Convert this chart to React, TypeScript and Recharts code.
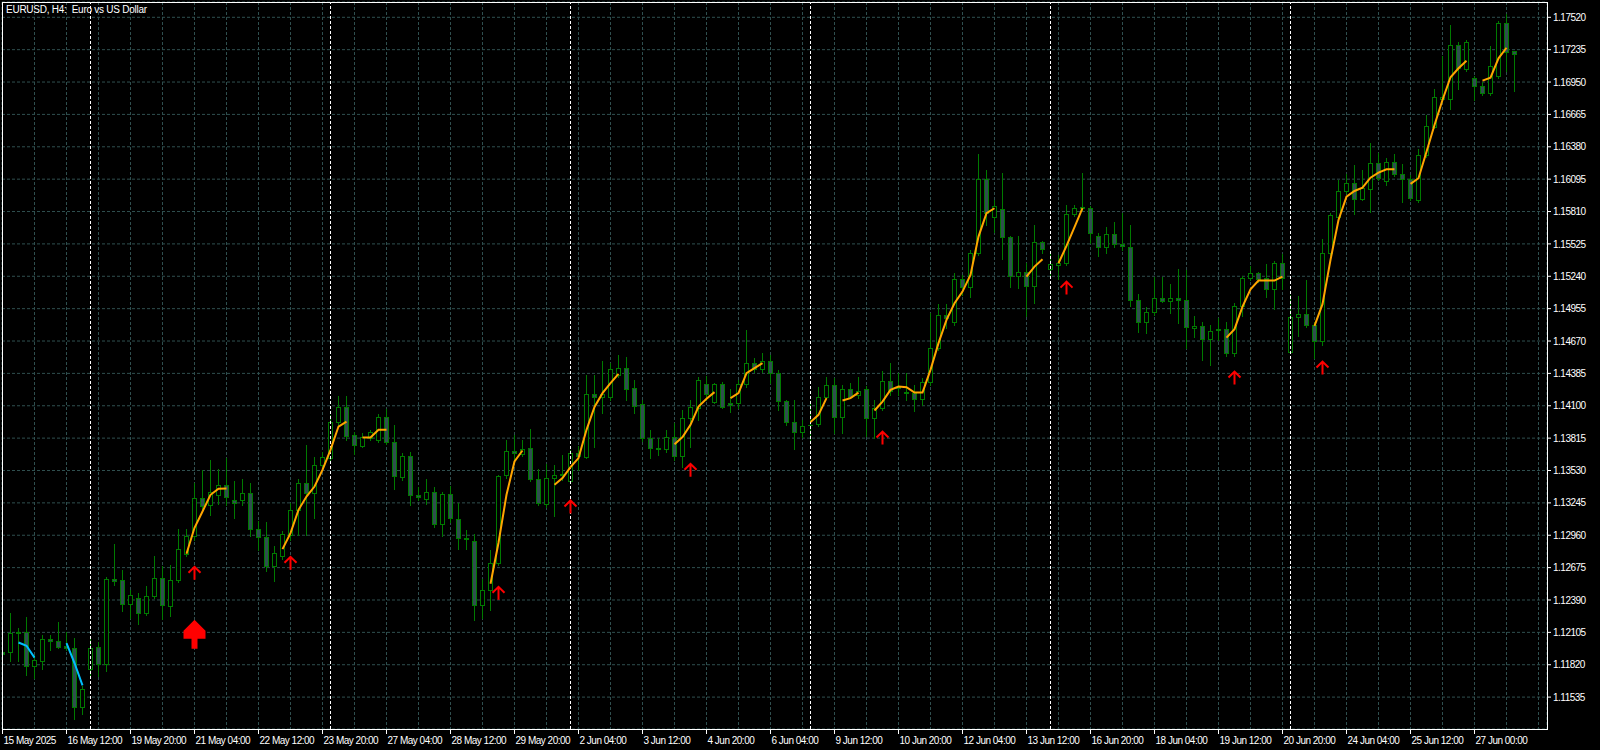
import { ComposedChart, Bar, Line, Scatter, XAxis, YAxis, CartesianGrid, ReferenceLine } from 'recharts'

const C = {
  bg: '#000000',
  grid: '#2F4F4F',
  wick: '#007A00',
  bull: '#000000',
  bear: '#2F4F4F',
  orange: '#FFA500',
  cyan: '#00BFFF',
  red: '#FF0000',
  text: '#FFFFFF',
}

// H4 bars, 15 May 2025 04:00 .. 27 Jun 2025
const open = [
  1.11934, 1.11932, 1.12097, 1.12104, 1.11805, 1.11849, 1.12046, 1.12029, 1.11987, 1.11967,
  1.11448, 1.11782, 1.11976, 1.11829, 1.12574, 1.12568, 1.12354, 1.12407, 1.12275, 1.12421,
  1.12583, 1.12333, 1.12562, 1.12794, 1.12955, 1.13287, 1.13228, 1.13316, 1.13398, 1.13266,
  1.13266, 1.13331, 1.13014, 1.12944, 1.12685, 1.12773, 1.12964, 1.13184, 1.13419, 1.13331,
  1.13580, 1.13639, 1.13961, 1.14093, 1.13844, 1.13750, 1.13815, 1.13800, 1.14000, 1.13780,
  1.13477, 1.13662, 1.13316, 1.13278, 1.13340, 1.13058, 1.13322, 1.13102, 1.12935, 1.12905,
  1.12342, 1.12474, 1.12715, 1.13492, 1.13706, 1.13677, 1.13727, 1.13454, 1.13237, 1.13463,
  1.13492, 1.13439, 1.13683, 1.13653, 1.14202, 1.14181, 1.14181, 1.14372, 1.14436, 1.14255,
  1.14117, 1.13815, 1.13727, 1.13718, 1.13824, 1.13662, 1.13991, 1.14082, 1.14294, 1.14137,
  1.14290, 1.14123, 1.14123, 1.14290, 1.14475, 1.14422, 1.14498, 1.14392, 1.14143, 1.13961,
  1.13868, 1.13929, 1.13938, 1.14181, 1.14284, 1.14000, 1.14246, 1.14193, 1.14246, 1.13991,
  1.14079, 1.14319, 1.14258, 1.14225, 1.14216, 1.14158, 1.14308, 1.14607, 1.14900, 1.14841,
  1.15214, 1.15149, 1.15443, 1.16094, 1.15760, 1.15830, 1.15584, 1.15243, 1.15281, 1.15158,
  1.15540, 1.15302, 1.15340, 1.15355, 1.15786, 1.15839, 1.15839, 1.15598, 1.15496, 1.15613,
  1.15522, 1.15501, 1.15032, 1.14841, 1.14924, 1.15052, 1.15023, 1.15052, 1.15032, 1.14786,
  1.14806, 1.14686, 1.14768, 1.14774, 1.14563, 1.14982, 1.15223, 1.15267, 1.15223, 1.15126,
  1.15355, 1.14572, 1.14885, 1.14906, 1.14812, 1.14674, 1.15443, 1.15765, 1.15991, 1.16059,
  1.15918, 1.16006, 1.16235, 1.16079, 1.16249, 1.16138, 1.16094, 1.15912, 1.16308, 1.16552,
  1.16798, 1.16798, 1.17276, 1.17062, 1.16983, 1.16915, 1.16851, 1.17003, 1.17467, 1.17223,
]

const high = [
  1.11952, 1.12275, 1.12146, 1.12240, 1.11908, 1.12078, 1.12084, 1.12198, 1.12104, 1.12055,
  1.11635, 1.12055, 1.12016, 1.12592, 1.12885, 1.12656, 1.12480, 1.12451, 1.12515, 1.12779,
  1.12685, 1.12700, 1.13014, 1.13014, 1.13419, 1.13536, 1.13624, 1.13542, 1.13639, 1.13439,
  1.13457, 1.13419, 1.13087, 1.13081, 1.12861, 1.12999, 1.13246, 1.13457, 1.13756, 1.13653,
  1.13694, 1.14020, 1.14187, 1.14187, 1.13870, 1.13862, 1.13888, 1.14026, 1.14070, 1.13932,
  1.13683, 1.13694, 1.13384, 1.13454, 1.13384, 1.13345, 1.13395, 1.13248, 1.13002, 1.12973,
  1.12577, 1.12832, 1.13492, 1.13800, 1.13844, 1.13800, 1.13894, 1.13542, 1.13589, 1.13580,
  1.13668, 1.13712, 1.13747, 1.14372, 1.14372, 1.14495, 1.14480, 1.14548, 1.14530, 1.14328,
  1.14152, 1.13888, 1.13815, 1.13888, 1.13952, 1.14064, 1.14152, 1.14354, 1.14363, 1.14302,
  1.14310, 1.14246, 1.14328, 1.14768, 1.14522, 1.14568, 1.14548, 1.14416, 1.14152, 1.14152,
  1.13976, 1.14117, 1.14266, 1.14357, 1.14346, 1.14284, 1.14304, 1.14352, 1.14275, 1.14152,
  1.14410, 1.14475, 1.14387, 1.14387, 1.14284, 1.14346, 1.14915, 1.14997, 1.14997, 1.15267,
  1.15252, 1.15472, 1.16317, 1.16176, 1.15912, 1.16147, 1.15598, 1.15598, 1.15360, 1.15692,
  1.15554, 1.15457, 1.15428, 1.15868, 1.15868, 1.16152, 1.15859, 1.15622, 1.15672, 1.15721,
  1.15800, 1.15692, 1.15082, 1.14973, 1.15237, 1.15237, 1.15173, 1.15302, 1.15296, 1.14891,
  1.14838, 1.14812, 1.14871, 1.14841, 1.15003, 1.15243, 1.15331, 1.15278, 1.15349, 1.15378,
  1.15434, 1.15076, 1.15067, 1.15208, 1.14841, 1.15566, 1.15800, 1.16088, 1.16141, 1.16220,
  1.16176, 1.16411, 1.16328, 1.16282, 1.16314, 1.16229, 1.16132, 1.16358, 1.16660, 1.16886,
  1.17179, 1.17452, 1.17305, 1.17320, 1.17003, 1.16950, 1.17267, 1.17490, 1.17549, 1.17223,
]

const low = [
  1.11899, 1.11849, 1.11855, 1.11726, 1.11703, 1.11785, 1.11952, 1.11963, 1.11952, 1.11342,
  1.11389, 1.11723, 1.11717, 1.11761, 1.12524, 1.12289, 1.12234, 1.12178, 1.12260, 1.12410,
  1.12225, 1.12245, 1.12544, 1.12779, 1.12920, 1.13184, 1.13140, 1.13237, 1.13228, 1.13111,
  1.13228, 1.12949, 1.12832, 1.12647, 1.12553, 1.12753, 1.12920, 1.12964, 1.12964, 1.13111,
  1.13536, 1.13606, 1.13932, 1.13800, 1.13677, 1.13738, 1.13800, 1.13782, 1.13765, 1.13366,
  1.13448, 1.13228, 1.13272, 1.13237, 1.13034, 1.12955, 1.13078, 1.12838, 1.12838, 1.12216,
  1.12231, 1.12304, 1.12700, 1.13466, 1.13624, 1.13659, 1.13439, 1.13228, 1.13210, 1.13131,
  1.13448, 1.13430, 1.13536, 1.13642, 1.13741, 1.14038, 1.14152, 1.14354, 1.14152, 1.14038,
  1.13791, 1.13639, 1.13668, 1.13694, 1.13624, 1.13565, 1.13738, 1.13976, 1.14152, 1.14126,
  1.14082, 1.14046, 1.14082, 1.14266, 1.14398, 1.14398, 1.14302, 1.14064, 1.13932, 1.13718,
  1.13826, 1.13800, 1.13923, 1.14170, 1.13862, 1.13859, 1.14170, 1.14170, 1.13835, 1.13815,
  1.14064, 1.14196, 1.14196, 1.14152, 1.14058, 1.14108, 1.14284, 1.14592, 1.14786, 1.14812,
  1.15076, 1.15061, 1.15428, 1.15692, 1.15630, 1.15390, 1.15146, 1.15140, 1.14891, 1.15008,
  1.15446, 1.15252, 1.15214, 1.15340, 1.15771, 1.15824, 1.15536, 1.15419, 1.15448, 1.15498,
  1.15472, 1.14979, 1.14753, 1.14739, 1.14900, 1.15014, 1.14915, 1.14832, 1.14607, 1.14704,
  1.14504, 1.14460, 1.14680, 1.14539, 1.14539, 1.14891, 1.15208, 1.15190, 1.15056, 1.14950,
  1.15126, 1.14563, 1.14715, 1.14794, 1.14519, 1.14636, 1.15428, 1.15754, 1.15974, 1.15789,
  1.15912, 1.15809, 1.16088, 1.16044, 1.16123, 1.15897, 1.15912, 1.15894, 1.16290, 1.16546,
  1.16774, 1.16710, 1.16889, 1.17047, 1.16792, 1.16836, 1.16836, 1.16986, 1.17050, 1.16874,
]

const close = [
  1.11917, 1.12099, 1.12106, 1.11805, 1.11864, 1.12046, 1.12029, 1.11978, 1.11963, 1.11448,
  1.11606, 1.11967, 1.11829, 1.12574, 1.12553, 1.12354, 1.12436, 1.12275, 1.12425, 1.12583,
  1.12342, 1.12565, 1.12838, 1.12955, 1.13287, 1.13219, 1.13345, 1.13398, 1.13301, 1.13243,
  1.13331, 1.13014, 1.12944, 1.12685, 1.12803, 1.12970, 1.13184, 1.13419, 1.13331, 1.13580,
  1.13648, 1.13961, 1.14093, 1.13838, 1.13756, 1.13829, 1.13873, 1.14000, 1.13780, 1.13486,
  1.13662, 1.13310, 1.13296, 1.13340, 1.13058, 1.13322, 1.13111, 1.12935, 1.12926, 1.12342,
  1.12474, 1.12715, 1.13486, 1.13706, 1.13683, 1.13718, 1.13454, 1.13243, 1.13463, 1.13492,
  1.13501, 1.13683, 1.13659, 1.14202, 1.14181, 1.14205, 1.14422, 1.14431, 1.14249, 1.14102,
  1.13815, 1.13727, 1.13718, 1.13824, 1.13662, 1.13991, 1.14088, 1.14328, 1.14202, 1.14290,
  1.14093, 1.14108, 1.14290, 1.14475, 1.14422, 1.14498, 1.14392, 1.14146, 1.13961, 1.13868,
  1.13926, 1.13935, 1.14176, 1.14284, 1.14000, 1.14246, 1.14181, 1.14234, 1.13991, 1.14079,
  1.14319, 1.14234, 1.14269, 1.14211, 1.14158, 1.14308, 1.14607, 1.14900, 1.14871, 1.15214,
  1.15149, 1.15443, 1.16094, 1.15800, 1.15859, 1.15584, 1.15243, 1.15281, 1.15158, 1.15540,
  1.15478, 1.15346, 1.15358, 1.15786, 1.15839, 1.15846, 1.15619, 1.15496, 1.15613, 1.15522,
  1.15507, 1.15032, 1.14841, 1.14924, 1.15052, 1.15023, 1.15052, 1.15032, 1.14797, 1.14806,
  1.14686, 1.14762, 1.14779, 1.14563, 1.14982, 1.15223, 1.15267, 1.15217, 1.15126, 1.15355,
  1.15223, 1.14885, 1.14906, 1.14812, 1.14674, 1.15443, 1.15780, 1.15991, 1.16059, 1.15918,
  1.16015, 1.16235, 1.16103, 1.16249, 1.16138, 1.16094, 1.15927, 1.16308, 1.16563, 1.16816,
  1.16816, 1.17276, 1.17071, 1.17300, 1.16918, 1.16851, 1.17091, 1.17467, 1.17217, 1.17194,
]

// indicator segments: [first bar, values...]
const orangeSegments: [number, number[]][] = [
  [23, [1.12797, 1.13026, 1.13169, 1.13316, 1.13369, 1.13371]],
  [35, [1.12838, 1.12979, 1.13184, 1.13301, 1.13389, 1.13536, 1.13712, 1.13917, 1.13961]],
  [45, [1.13820, 1.13820, 1.13888, 1.13888]],
  [61, [1.12533, 1.12894, 1.13316, 1.13609, 1.13706]],
  [69, [1.13404, 1.13463, 1.13560, 1.13639, 1.13888, 1.14090, 1.14211, 1.14299, 1.14381]],
  [84, [1.13762, 1.13824, 1.13932, 1.14093, 1.14161, 1.14220]],
  [91, [1.14167, 1.14211, 1.14387, 1.14431, 1.14475]],
  [101, [1.13956, 1.14020, 1.14167]],
  [105, [1.14146, 1.14167, 1.14216]],
  [109, [1.14058, 1.14137, 1.14240, 1.14269, 1.14264, 1.14216, 1.14216, 1.14416, 1.14651, 1.14856,
    1.15003, 1.15105, 1.15252, 1.15589, 1.15795, 1.15839]],
  [128, [1.15237, 1.15325, 1.15390]],
  [132, [1.15355, 1.15507, 1.15672, 1.15839]],
  [153, [1.14700, 1.14774, 1.14973, 1.15126, 1.15202, 1.15202, 1.15202, 1.15237]],
  [164, [1.14803, 1.14994, 1.15384, 1.15736, 1.15941, 1.15991, 1.16020, 1.16108, 1.16152, 1.16182, 1.16182]],
  [176, [1.16053, 1.16103, 1.16337, 1.16572, 1.16792, 1.16992, 1.17071, 1.17138]],
  [185, [1.16962, 1.16988, 1.17159, 1.17252]],
]

const cyanSegments: [number, number[]][] = [
  [2, [1.12016, 1.11987, 1.11883]],
  [8, [1.12011, 1.11835, 1.11638]],
]

const arrowBars = [24, 36, 62, 71, 86, 110, 133, 154, 165]
const arrowPrices = [1.12682, 1.12770, 1.12506, 1.13266, 1.13589, 1.13873, 1.15193, 1.14401, 1.14489]
const bigArrowBars = [24]
const bigArrowPrices = [1.12216]

const weekStarts = [11, 41, 71, 101, 131, 161]

const timeLabels: [number, string][] = [
  [0, '15 May 2025'], [8, '16 May 12:00'], [16, '19 May 20:00'], [24, '21 May 04:00'],
  [32, '22 May 12:00'], [40, '23 May 20:00'], [48, '27 May 04:00'], [56, '28 May 12:00'],
  [64, '29 May 20:00'], [72, '2 Jun 04:00'], [80, '3 Jun 12:00'], [88, '4 Jun 20:00'],
  [96, '6 Jun 04:00'], [104, '9 Jun 12:00'], [112, '10 Jun 20:00'], [120, '12 Jun 04:00'],
  [128, '13 Jun 12:00'], [136, '16 Jun 20:00'], [144, '18 Jun 04:00'], [152, '19 Jun 12:00'],
  [160, '20 Jun 20:00'], [168, '24 Jun 04:00'], [176, '25 Jun 12:00'], [184, '27 Jun 00:00'],
]

const priceTicks = [
  1.17520, 1.17235, 1.16950, 1.16665, 1.16380, 1.16095, 1.15810, 1.15525, 1.15240, 1.14955, 1.14670,
  1.14385, 1.14100, 1.13815, 1.13530, 1.13245, 1.12960, 1.12675, 1.12390, 1.12105, 1.11820, 1.11535,
]

function spread(segs: [number, number[]][]) {
  const out: (number | null)[] = open.map(() => null)
  segs.forEach(([start, vals]) => vals.forEach((v, j) => { out[start + j] = v }))
  return out
}

const orangeSeries = spread(orangeSegments)
const cyanSeries = spread(cyanSegments)

const rows = open.map((o, i) => ({
  i,
  o,
  h: high[i],
  l: low[i],
  c: close[i],
  range: [low[i], high[i]],
  orange: orangeSeries[i],
  cyan: cyanSeries[i],
}))

const smallArrows = arrowBars.map((i, j) => ({ i, y: arrowPrices[j] }))
const bigArrows = bigArrowBars.map((i, j) => ({ i, y: bigArrowPrices[j] }))

const gridBars = Array.from({ length: 49 }, (_, j) => j * 4)
const labelAt = new Map(timeLabels)

const FONT = '"Liberation Sans", Arial, sans-serif'

function Candle(props: any) {
  const { x, y, width, height, payload } = props
  if (x == null || !payload) return null
  const { o, h, l, c } = payload
  const top = Math.min(y, y + height)
  const ht = Math.abs(height)
  const span = h - l
  const py = (p: number) => (span > 0 ? top + ((h - p) / span) * ht : top)
  const cx = Math.floor(x + width / 2) + 0.5
  const bTop = Math.round(py(Math.max(o, c))) + 0.5
  const bBot = Math.round(py(Math.min(o, c))) + 0.5
  const bull = c >= o
  return (
    <g>
      <line x1={cx} x2={cx} y1={Math.round(top)} y2={Math.round(top + ht) + 1} stroke={C.wick} strokeWidth={1} />
      {bBot - bTop < 1 ? (
        <line x1={cx - 2.5} x2={cx + 2.5} y1={bTop} y2={bTop} stroke={C.wick} strokeWidth={1} />
      ) : (
        <rect x={cx - 2} y={bTop} width={4} height={bBot - bTop} fill={bull ? C.bull : C.bear} stroke={C.wick} strokeWidth={1} />
      )}
    </g>
  )
}

function SmallArrow(props: any) {
  const { cx, cy } = props
  if (cx == null || cy == null) return null
  const x = Math.floor(cx) + 0.5
  return (
    <path
      d={`M${x},${cy + 13} V${cy + 1} M${x - 6},${cy + 6} L${x},${cy} L${x + 6},${cy + 6}`}
      stroke={C.red}
      strokeWidth={2}
      fill="none"
    />
  )
}

function BigArrow(props: any) {
  const { cx, cy } = props
  if (cx == null || cy == null) return null
  const x = Math.floor(cx) + 0.5
  const pts = [
    [x, cy], [x + 11, cy + 11], [x + 11, cy + 19], [x + 3, cy + 19], [x + 3, cy + 29],
    [x - 3, cy + 29], [x - 3, cy + 19], [x - 11, cy + 19], [x - 11, cy + 11],
  ]
  return <polygon points={pts.map(p => p.join(',')).join(' ')} fill={C.red} />
}

function XTick(props: any) {
  const { x, y, payload } = props
  const label = labelAt.get(payload.value)
  if (!label) return null
  return (
    <g>
      <line x1={x} x2={x} y1={y} y2={y + 5} stroke={C.text} strokeWidth={1} />
      <text x={x + 1} y={y + 15} fill={C.text} fontSize={10} letterSpacing={-0.5} fontFamily={FONT} textAnchor="start">
        {label}
      </text>
    </g>
  )
}

function YTick(props: any) {
  const { x, y, payload } = props
  return (
    <g>
      <line x1={x} x2={x + 4} y1={y} y2={y} stroke={C.text} strokeWidth={1} />
      <text x={x + 6} y={y} dy="0.36em" fill={C.text} fontSize={10} letterSpacing={-0.5} fontFamily={FONT} textAnchor="start">
        {Number(payload.value).toFixed(5)}
      </text>
    </g>
  )
}

export default function App() {
  return (
    <div style={{
      position: 'fixed', left: 0, top: 0, width: 1600, height: 750,
      background: C.bg, overflow: 'hidden', fontFamily: FONT,
    }}>
      <ComposedChart width={1600} height={750} data={rows} margin={{ top: 2, right: 0, bottom: 0, left: 2 }}>
        <CartesianGrid stroke={C.grid} strokeDasharray="3 2" />
        <XAxis
          dataKey="i"
          type="number"
          domain={[-0.0625, 193.0625]}
          ticks={gridBars}
          interval={0}
          allowDataOverflow
          height={21}
          axisLine={false}
          tickLine={false}
          tickSize={0}
          tickMargin={0}
          tick={<XTick />}
        />
        <YAxis
          orientation="right"
          type="number"
          domain={[1.112542, 1.176547]}
          ticks={priceTicks}
          interval={0}
          allowDataOverflow
          width={53}
          axisLine={false}
          tickLine={false}
          tickSize={0}
          tickMargin={0}
          tick={<YTick />}
        />
        {weekStarts.map(k => (
          <ReferenceLine key={k} x={k} stroke="#FFFFFF" strokeDasharray="3 2" />
        ))}
        <Bar dataKey="range" barSize={6} shape={<Candle />} isAnimationActive={false} />
        <Line
          dataKey="orange"
          type="linear"
          stroke={C.orange}
          strokeWidth={2}
          dot={false}
          activeDot={false}
          connectNulls={false}
          isAnimationActive={false}
        />
        <Line
          dataKey="cyan"
          type="linear"
          stroke={C.cyan}
          strokeWidth={2}
          dot={false}
          activeDot={false}
          connectNulls={false}
          isAnimationActive={false}
        />
        <Scatter data={smallArrows} dataKey="y" shape={<SmallArrow />} isAnimationActive={false} />
        <Scatter data={bigArrows} dataKey="y" shape={<BigArrow />} isAnimationActive={false} />
      </ComposedChart>
      <div style={{
        position: 'absolute', left: 2, top: 2, width: 1546, height: 728,
        border: '1px solid #FFFFFF', boxSizing: 'border-box', pointerEvents: 'none',
      }} />
      <div style={{
        position: 'absolute', left: 6, top: 4, color: C.text, fontSize: 10,
        lineHeight: '11px', letterSpacing: -0.25, whiteSpace: 'pre',
      }}>
        {'EURUSD, H4:  Euro vs US Dollar'}
      </div>
    </div>
  )
}
